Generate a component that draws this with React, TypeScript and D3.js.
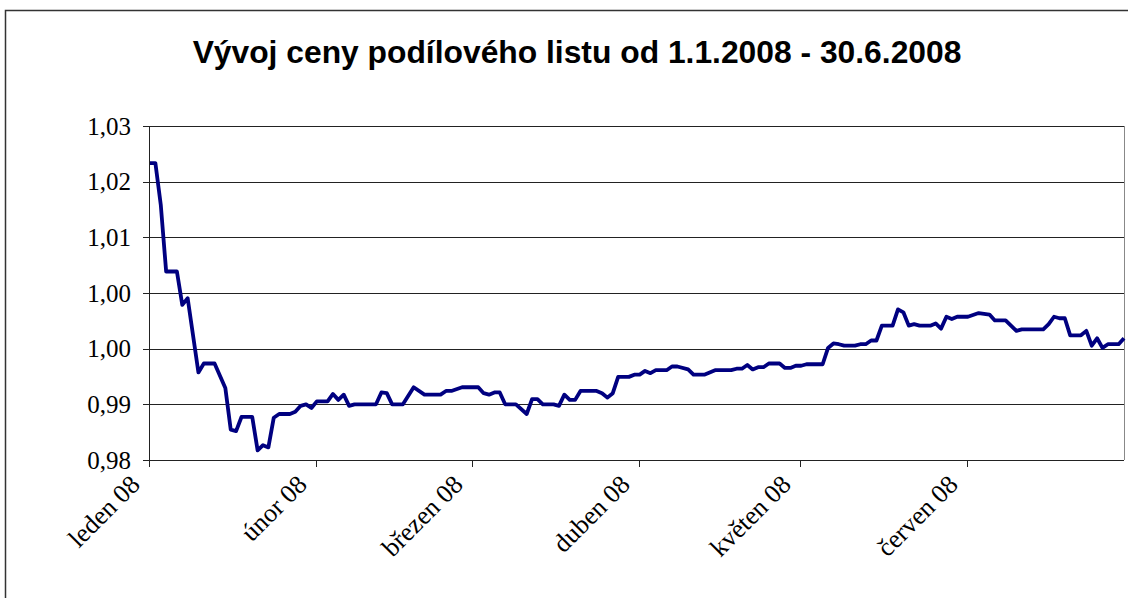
import * as d3 from "d3"

const title = "Vývoj ceny podílového listu od 1.1.2008 - 30.6.2008"

const dates = [
  "2008-01-01", "2008-01-02", "2008-01-03", "2008-01-04", "2008-01-06", "2008-01-07", "2008-01-08", "2008-01-10", "2008-01-11", "2008-01-13",
  "2008-01-15", "2008-01-16", "2008-01-17", "2008-01-18", "2008-01-20", "2008-01-21", "2008-01-22", "2008-01-23", "2008-01-24", "2008-01-25",
  "2008-01-27", "2008-01-28", "2008-01-29", "2008-01-30", "2008-01-31", "2008-02-01", "2008-02-03", "2008-02-04", "2008-02-05", "2008-02-06",
  "2008-02-07", "2008-02-08", "2008-02-12", "2008-02-13", "2008-02-14", "2008-02-15", "2008-02-17", "2008-02-19", "2008-02-21", "2008-02-24",
  "2008-02-25", "2008-02-26", "2008-02-28", "2008-03-02", "2008-03-03", "2008-03-04", "2008-03-05", "2008-03-06", "2008-03-07", "2008-03-09",
  "2008-03-11", "2008-03-12", "2008-03-13", "2008-03-14", "2008-03-16", "2008-03-17", "2008-03-18", "2008-03-19", "2008-03-20", "2008-03-21",
  "2008-03-24", "2008-03-25", "2008-03-26", "2008-03-27", "2008-03-28", "2008-03-30", "2008-03-31", "2008-04-01", "2008-04-02", "2008-04-03",
  "2008-04-04", "2008-04-06", "2008-04-07", "2008-04-08", "2008-04-10", "2008-04-11", "2008-04-13", "2008-04-15", "2008-04-18", "2008-04-19",
  "2008-04-20", "2008-04-21", "2008-04-22", "2008-04-23", "2008-04-24", "2008-04-25", "2008-04-27", "2008-04-28", "2008-04-29", "2008-04-30",
  "2008-05-01", "2008-05-02", "2008-05-05", "2008-05-06", "2008-05-07", "2008-05-08", "2008-05-09", "2008-05-11", "2008-05-12", "2008-05-13",
  "2008-05-14", "2008-05-15", "2008-05-16", "2008-05-18", "2008-05-19", "2008-05-20", "2008-05-21", "2008-05-22", "2008-05-23", "2008-05-25",
  "2008-05-26", "2008-05-27", "2008-05-28", "2008-05-29", "2008-05-30", "2008-06-01", "2008-06-03", "2008-06-04", "2008-06-05", "2008-06-06",
  "2008-06-08", "2008-06-10", "2008-06-11", "2008-06-15", "2008-06-16", "2008-06-17", "2008-06-18", "2008-06-19", "2008-06-20", "2008-06-22",
  "2008-06-23", "2008-06-24", "2008-06-25", "2008-06-26", "2008-06-27", "2008-06-29", "2008-06-30",
]

const prices = [
  1.02, 1.02, 1.0144, 1.0054, 1.0054, 1.0009, 1.0018, 0.9918, 0.993, 0.993,
  0.9897, 0.9841, 0.9839, 0.9858, 0.9858, 0.9813, 0.982, 0.9817, 0.9857, 0.9862,
  0.9862, 0.9865, 0.9873, 0.9875, 0.987, 0.9879, 0.9879, 0.9889, 0.9881, 0.9888,
  0.9873, 0.9875, 0.9875, 0.9891, 0.989, 0.9875, 0.9875, 0.9898, 0.9888, 0.9888,
  0.9893, 0.9893, 0.9898, 0.9898, 0.989, 0.9888, 0.9891, 0.9891, 0.9875, 0.9875,
  0.9862, 0.9882, 0.9882, 0.9875, 0.9875, 0.9873, 0.9888, 0.9881, 0.9881, 0.9893,
  0.9893, 0.989, 0.9884, 0.989, 0.9912, 0.9912, 0.9915, 0.9915, 0.992, 0.9917,
  0.9921, 0.9921, 0.9926, 0.9926, 0.9922, 0.9915, 0.9915, 0.9921, 0.9921, 0.9923,
  0.9923, 0.9928, 0.9922, 0.9925, 0.9925, 0.993, 0.993, 0.9924, 0.9924, 0.9927,
  0.9927, 0.9929, 0.9929, 0.9951, 0.9957, 0.9956, 0.9954, 0.9954, 0.9956, 0.9956,
  0.9961, 0.9961, 0.9981, 0.9981, 1.0003, 0.9999, 0.9981, 0.9983, 0.9981, 0.9981,
  0.9984, 0.9977, 0.9993, 0.999, 0.9993, 0.9993, 0.9998, 0.9997, 0.9996, 0.9988,
  0.9988, 0.9974, 0.9976, 0.9976, 0.9983, 0.9993, 0.9991, 0.9991, 0.9968, 0.9968,
  0.9974, 0.9954, 0.9964, 0.9951, 0.9956, 0.9956, 0.9964,
]

// y ticks: the labels are rounded to two decimals, so some repeat
const yTicks = [0.98, 0.9875, 0.995, 1.0025, 1.01, 1.0175, 1.025]
const yLabels = ["0,98", "0,99", "1,00", "1,00", "1,01", "1,02", "1,03"]

const monthStarts = ["2008-01-01", "2008-02-01", "2008-03-01", "2008-04-01", "2008-05-01", "2008-06-01"]
const monthLabels = ["leden 08", "únor 08", "březen 08", "duben 08", "květen 08", "červen 08"]

const W = 1128
const H = 598
const left = 150
const right = 1124
const top = 126
const bottom = 460

const parse = d3.utcParse("%Y-%m-%d")

export default function App() {
  const x = d3
    .scaleUtc()
    .domain([parse("2008-01-01")!, parse("2008-06-30")!])
    .range([left, right])

  const y = d3.scaleLinear().domain([0.98, 1.025]).range([bottom, top])

  const points = dates.map((d, i) => [x(parse(d)!), y(prices[i])] as [number, number])
  const path = d3.line()(points) ?? ""

  const serif = "'Liberation Serif', 'Times New Roman', serif"

  return (
    <svg
      width={W}
      height={H}
      style={{ position: "absolute", left: 0, top: 0, background: "#fff" }}
    >
      <rect x={5.5} y={10.5} width={W + 20} height={H + 20} fill="#fff" stroke="#333" strokeWidth={1.5} />

      <text
        x={577}
        y={63}
        textAnchor="middle"
        fontFamily="'Liberation Sans', Arial, sans-serif"
        fontWeight={700}
        fontSize={31.8}
      >
        {title}
      </text>

      {yTicks.map((t, i) => (
        <g key={i}>
          <line
            x1={left}
            x2={right}
            y1={Math.round(y(t)) + 0.5}
            y2={Math.round(y(t)) + 0.5}
            stroke="#222"
            strokeWidth={1}
          />
          <line
            x1={left - 7}
            x2={left}
            y1={Math.round(y(t)) + 0.5}
            y2={Math.round(y(t)) + 0.5}
            stroke="#222"
          />
          <text
            x={131}
            y={y(t)}
            dy="0.34em"
            textAnchor="end"
            fontFamily={serif}
            fontSize={25}
          >
            {yLabels[i]}
          </text>
        </g>
      ))}

      <line x1={right + 0.5} x2={right + 0.5} y1={top} y2={bottom} stroke="#888" />
      <line x1={left - 0.5} x2={left - 0.5} y1={top} y2={bottom + 1} stroke="#222" />

      {monthStarts.map((m, i) => {
        const tx = Math.round(x(parse(m)!)) - 0.5
        return (
          <g key={m}>
            <line x1={tx} x2={tx} y1={bottom} y2={bottom + 7} stroke="#222" />
            <text
              transform={`translate(${tx - 8},${486}) rotate(-45)`}
              textAnchor="end"
              fontFamily={serif}
              fontSize={26}
            >
              {monthLabels[i]}
            </text>
          </g>
        )
      })}

      <path d={path} fill="none" stroke="#000080" strokeWidth={3.8} strokeLinejoin="round" />
    </svg>
  )
}
